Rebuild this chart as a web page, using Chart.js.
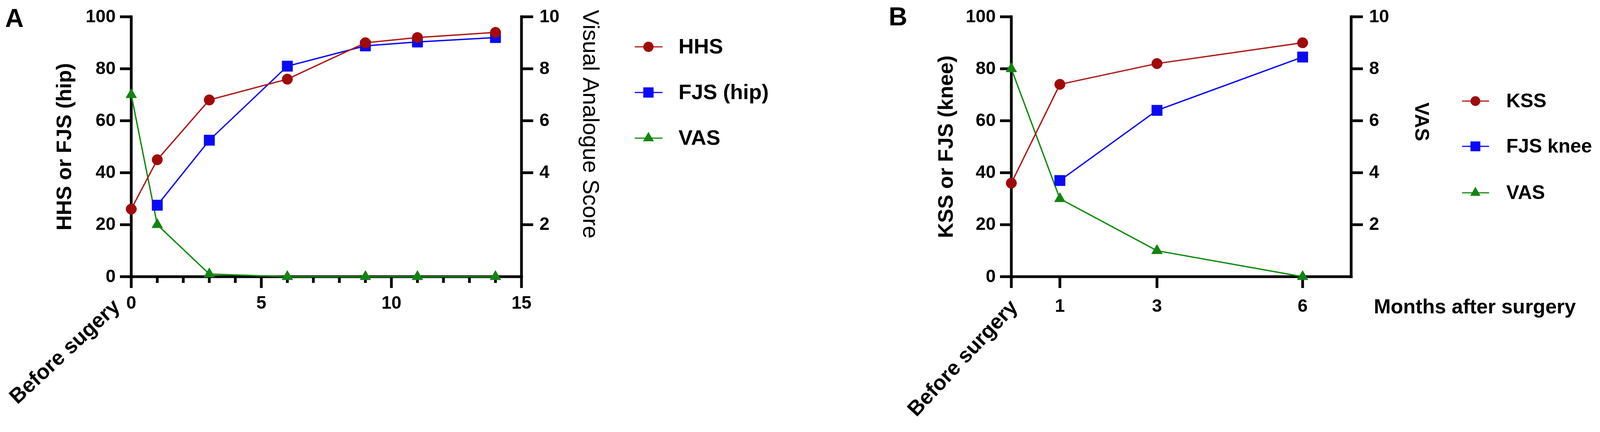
<!DOCTYPE html>
<html><head><meta charset="utf-8">
<script src="https://cdn.jsdelivr.net/npm/chart.js@4.4.1/dist/chart.umd.min.js"></script>
<style>
html,body{margin:0;padding:0;background:#fff;}
#wrap{position:relative;width:4104px;height:1107px;background:#fff;overflow:hidden;}
.panel{position:absolute;top:0;height:1107px;}
#pa{left:0;width:2000px;}
#pb{left:2050px;width:2054px;}
canvas{display:block;}
</style></head><body>
<div id="wrap">
  <div class="panel" id="pa"><canvas id="ca" width="2000" height="1107"></canvas></div>
  <div class="panel" id="pb"><canvas id="cb" width="2054" height="1107"></canvas></div>
</div>
<script>
// ---------- data ----------
const hipMonths      = [0, 1, 3, 6, 9, 11, 14];
const hhsScores      = [26, 45, 68, 76, 90, 92, 94];
const fjsHipScores   = [null, 27.5, 52.5, 81, 88.8, 90.3, 92];
const vasHipScores   = [7.0, 2.0, 0.1, 0, 0, 0, 0];

const kneeMonths     = [0, 1, 3, 6];
const kssScores      = [36, 74, 82, 90];
const fjsKneeScores  = [null, 37, 64, 84.5];
const vasKneeScores  = [8.0, 3.0, 1.0, 0];

const scoreTicks     = [0, 20, 40, 60, 80, 100];
const vasTicks       = [2, 4, 6, 8, 10];
const hipMajorTicks  = [0, 5, 10, 15];
const hipTickLabels  = ['0', '5', '10', '15'];
const hipMinorTicks  = [1, 2, 3, 4, 6, 7, 8, 9, 11, 12, 13, 14];
const hipBaseLabel   = 'Before sugery';
const kneeTicks      = [0, 1, 3, 6];
const kneeTickLabels = ['Before surgery', '1', '3', '6'];

const hipLegend  = ['HHS', 'FJS (hip)', 'VAS'];
const kneeLegend = ['KSS', 'FJS knee', 'VAS'];

// ---------- styling ----------
const FONT = '"Liberation Sans", Arial, Helvetica, sans-serif';
const RED = '#b01818', RED_P = '#a00a0a';
const BLUE = '#0a0af5', BLUE_P = '#0a0af5';
const GREEN = '#128a12', GREEN_P = '#138313';

function ds(label, xs, ys, line, fill, style, radius, axis) {
  const pts = [];
  xs.forEach((x, i) => { if (ys[i] !== null) pts.push({x: x, y: ys[i]}); });
  return {
    label, data: pts, borderColor: line, backgroundColor: fill,
    pointBackgroundColor: fill, pointBorderColor: fill, pointBorderWidth: 1,
    pointStyle: style, pointRadius: radius, pointHoverRadius: radius,
    borderWidth: 3.5, yAxisID: axis, clip: false, tension: 0
  };
}

function seg(ctx, x1, y1, x2, y2) { ctx.beginPath(); ctx.moveTo(x1, y1); ctx.lineTo(x2, y2); ctx.stroke(); }

function drawFrame(chart, p) {
  const ctx = chart.ctx, a = chart.chartArea;
  const xs = chart.scales.x, ys = chart.scales.y, y2 = chart.scales.y2;
  const L = a.left, R = a.right, T = a.top, B = a.bottom;
  ctx.save();
  ctx.strokeStyle = '#000'; ctx.fillStyle = '#000'; ctx.lineWidth = 7; ctx.lineCap = 'butt';
  seg(ctx, L, T - 3.5, L, B + 3.5);
  seg(ctx, R, T - 3.5, R, B + 3.5);
  seg(ctx, L - 3.5, B, R + 3.5, B);
  // left ticks + labels
  ctx.font = 'bold 46px ' + FONT; ctx.textAlign = 'right'; ctx.textBaseline = 'middle';
  scoreTicks.forEach(v => { const y = ys.getPixelForValue(v); seg(ctx, L - 29, y, L, y); ctx.fillText(String(v), L - 40, y + 1); });
  // right ticks + labels
  ctx.textAlign = 'left';
  vasTicks.forEach(v => { const y = y2.getPixelForValue(v); seg(ctx, R, y, R + 30, y); ctx.fillText(String(v), R + 46, y + 1); });
  // x ticks
  p.xMajor.forEach(v => { const x = xs.getPixelForValue(v); seg(ctx, x, B, x, B + 29); });
  (p.xMinor || []).forEach(v => { const x = xs.getPixelForValue(v); seg(ctx, x, B, x, B + 16); });
  ctx.textAlign = 'center'; ctx.textBaseline = 'top';
  p.xLabels.forEach((t, i) => {
    if (p.skipFirstLabel && i === 0) return;
    ctx.fillText(t, xs.getPixelForValue(p.xMajor[i]), B + p.labelGap);
  });
  // rotated "before surgery" label
  ctx.save();
  ctx.font = 'bold 54px ' + FONT;
  ctx.translate(xs.getPixelForValue(0) + p.rotDx, B + p.rotDy);
  ctx.rotate(-p.rotAngle * Math.PI / 180);
  ctx.textAlign = 'right'; ctx.textBaseline = 'middle';
  ctx.fillText(p.rotText, 0, 0);
  ctx.restore();
  ctx.restore();
}

function drawExtras(chart, p) {
  const ctx = chart.ctx, a = chart.chartArea;
  ctx.save();
  ctx.fillStyle = '#000';
  // panel letter
  ctx.font = 'bold 66px ' + FONT; ctx.textAlign = 'left'; ctx.textBaseline = 'top';
  ctx.fillText(p.letter, p.letterX, p.letterY);
  // left title
  ctx.save();
  ctx.font = 'bold 54px ' + FONT; ctx.textAlign = 'center'; ctx.textBaseline = 'middle';
  ctx.translate(p.leftTitleX, (a.top + a.bottom) / 2); ctx.rotate(-Math.PI / 2);
  ctx.fillText(p.leftTitle, 0, 0);
  ctx.restore();
  // right title
  ctx.save();
  ctx.font = p.rightTitleFont; ctx.textAlign = 'center'; ctx.textBaseline = 'middle';
  ctx.translate(p.rightTitleX, p.rightTitleY); ctx.rotate(Math.PI / 2);
  ctx.fillText(p.rightTitle, 0, 0);
  ctx.restore();
  // extra x title
  if (p.xTitle) {
    ctx.font = 'bold 52px ' + FONT; ctx.textAlign = 'left'; ctx.textBaseline = 'top';
    ctx.fillText(p.xTitle, p.xTitleX, a.bottom + p.labelGap);
  }
  // legend
  chart.data.datasets.forEach((d, i) => {
    const y = p.legY[i];
    ctx.strokeStyle = d.borderColor; ctx.lineWidth = 3;
    seg(ctx, p.legLine[0], y, p.legLine[1], y);
    ctx.fillStyle = d.pointBackgroundColor; ctx.strokeStyle = d.pointBorderColor; ctx.lineWidth = 1;
    Chart.helpers.drawPoint(ctx, {pointStyle: d.pointStyle, radius: d.pointRadius * p.legScale, rotation: 0, borderWidth: 1}, p.legMarkX, y);
    ctx.fillStyle = '#000';
    ctx.font = p.legFont; ctx.textAlign = 'left'; ctx.textBaseline = 'middle';
    ctx.fillText(p.legLabels[i], p.legTextX, y + 2);
  });
  ctx.restore();
}

function framePlugin(p) {
  return {
    id: 'frame_' + p.letter,
    beforeDatasetsDraw(chart) { drawFrame(chart, p); },
    afterDraw(chart) { drawExtras(chart, p); }
  };
}

function makeChart(id, datasets, xMax, padding, p) {
  return new Chart(document.getElementById(id), {
    type: 'line',
    data: { datasets },
    options: {
      responsive: false, animation: false, devicePixelRatio: 1, events: [],
      layout: { padding },
      plugins: { legend: { display: false }, tooltip: { enabled: false } },
      scales: {
        x: { type: 'linear', min: 0, max: xMax, display: false },
        y: { type: 'linear', min: 0, max: 100, display: false },
        y2: { type: 'linear', min: 0, max: 10, display: false, position: 'right' }
      }
    },
    plugins: [framePlugin(p)]
  });
}

// ---------- panel A ----------
makeChart('ca', [
  ds(hipLegend[0], hipMonths, hhsScores, RED, RED_P, 'circle', 13.5, 'y'),
  ds(hipLegend[1], hipMonths, fjsHipScores, BLUE, BLUE_P, 'rect', 19, 'y'),
  ds(hipLegend[2], hipMonths, vasHipScores, GREEN, GREEN_P, 'triangle', 16, 'y2')
], 15, { left: 336, right: 2000 - 1335, top: 43, bottom: 1107 - 709 }, {
  letter: 'A', letterX: 13, letterY: 18,
  xMajor: hipMajorTicks, xMinor: hipMinorTicks, xLabels: hipTickLabels, labelGap: 46,
  rotText: hipBaseLabel, rotAngle: 43, rotDx: -36, rotDy: 70,
  leftTitle: 'HHS or FJS (hip)', leftTitleX: 167,
  rightTitle: 'Visual Analogue Score', rightTitleX: 1509, rightTitleY: 318, rightTitleFont: '58px ' + FONT,
  legLabels: hipLegend, legY: [120, 237, 354], legLine: [1625, 1696], legMarkX: 1660, legTextX: 1737,
  legFont: 'bold 54px ' + FONT, legScale: 0.95
});

// ---------- panel B ----------
makeChart('cb', [
  ds(kneeLegend[0], kneeMonths, kssScores, RED, RED_P, 'circle', 13.5, 'y'),
  ds(kneeLegend[1], kneeMonths, fjsKneeScores, BLUE, BLUE_P, 'rect', 19, 'y'),
  ds(kneeLegend[2], kneeMonths, vasKneeScores, GREEN, GREEN_P, 'triangle', 16, 'y2')
], 7, { left: 2589 - 2050, right: 2054 - (3459 - 2050), top: 43, bottom: 1107 - 709 }, {
  letter: 'B', letterX: 2275 - 2050, letterY: 14,
  xMajor: kneeTicks, xLabels: kneeTickLabels, labelGap: 54, skipFirstLabel: true,
  rotText: kneeTickLabels[0], rotAngle: 47, rotDx: 8, rotDy: 70,
  leftTitle: 'KSS or FJS (knee)', leftTitleX: 2424 - 2050,
  rightTitle: 'VAS', rightTitleX: 3637 - 2050, rightTitleY: 312, rightTitleFont: 'bold 50px ' + FONT,
  xTitle: 'Months after surgery', xTitleX: 3517 - 2050,
  legLabels: kneeLegend, legY: [259, 375, 494], legLine: [3743 - 2050, 3812 - 2050], legMarkX: 3777 - 2050, legTextX: 3856 - 2050,
  legFont: 'bold 50px ' + FONT, legScale: 0.9
});
</script>
</body></html>
